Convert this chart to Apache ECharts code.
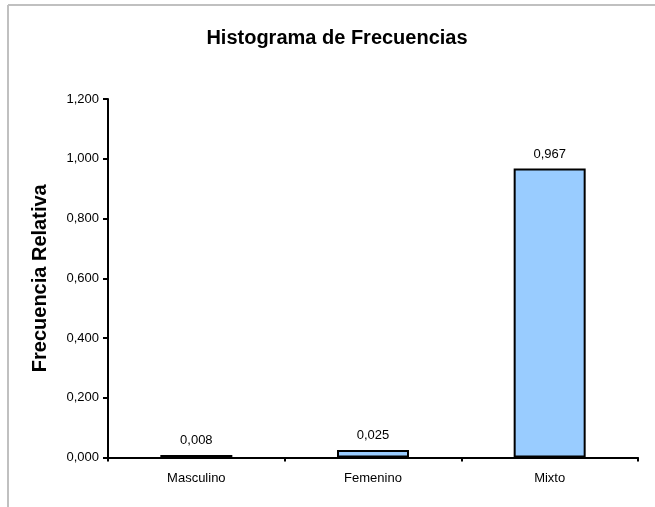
<!DOCTYPE html>
<html>
<head>
<meta charset="utf-8">
<script src="https://cdn.jsdelivr.net/npm/echarts@6/dist/echarts.min.js"></script>
<style>
  html, body { margin: 0; padding: 0; background: #fff; }
  #chart { width: 655px; height: 507px; }
</style>
</head>
<body>
<div id="chart"></div>
<script>
const categories = ["Masculino", "Femenino", "Mixto"];
const frecuencias = [0.008, 0.025, 0.967];

// formato con coma decimal, 3 decimales
const fmt = v => Number(v).toFixed(3).replace(".", ",");

const chart = echarts.init(document.getElementById("chart"));
chart.setOption({
  animation: false,
  textStyle: { fontFamily: "Liberation Sans, Arial, sans-serif" },
  graphic: [
    { type: "line", shape: { x1: 8, y1: 5, x2: 655, y2: 5 }, style: { stroke: "#c0c0c0", lineWidth: 2 } },
    { type: "line", shape: { x1: 8, y1: 5, x2: 8, y2: 507 }, style: { stroke: "#c0c0c0", lineWidth: 2 } }
  ],
  title: {
    text: "Histograma de Frecuencias",
    left: 332, top: 23, textAlign: "center",
    textStyle: { fontSize: 20, fontWeight: "bold", color: "#000" }
  },
  grid: { left: 108, right: 17, top: 99, bottom: 49.5, containLabel: false },
  xAxis: {
    type: "category",
    data: categories,
    axisLine: { lineStyle: { color: "#000", width: 2 } },
    axisTick: { show: true, length: 4, lineStyle: { color: "#000", width: 2 } },
    axisLabel: { color: "#000", fontSize: 13, margin: 14 }
  },
  yAxis: {
    type: "value",
    min: 0, max: 1.2, interval: 0.2,
    name: "Frecuencia Relativa",
    nameLocation: "middle",
    nameGap: 58,
    nameTextStyle: { fontSize: 20, fontWeight: "bold", color: "#000" },
    axisLine: { show: true, lineStyle: { color: "#000", width: 2 } },
    axisTick: { show: true, inside: false, length: 5, lineStyle: { color: "#000", width: 2 } },
    axisLabel: { color: "#000", fontSize: 13, margin: 9, formatter: fmt },
    splitLine: { show: false }
  },
  series: [{
    type: "bar",
    data: frecuencias,
    barWidth: 72,
    itemStyle: { color: "#99ccff", borderColor: "#000", borderWidth: 2 },
    label: {
      show: true, position: "top", distance: 8,
      color: "#000", fontSize: 13,
      formatter: p => fmt(p.value)
    }
  }]
});
</script>
</body>
</html>
